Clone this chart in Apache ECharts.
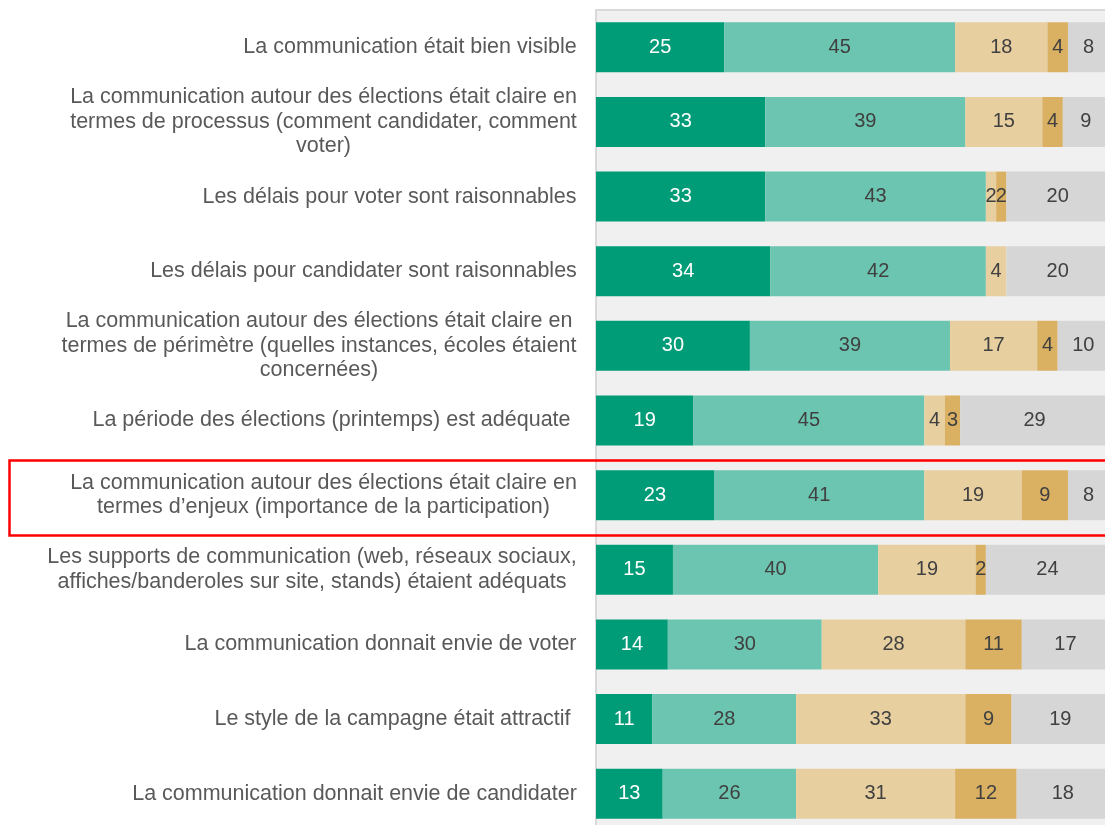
<!DOCTYPE html>
<html>
<head>
<meta charset="utf-8">
<script src="https://cdn.jsdelivr.net/npm/echarts@6/dist/echarts.min.js"></script>
<style>
  html, body { margin: 0; padding: 0; background: #fff; overflow: hidden; }
  /* le graphique déborde à droite et en bas, comme dans l'original */
  #chart { width: 1120px; height: 840px; }
</style>
</head>
<body>
<div id="chart"></div>
<script>
var categories = [
  'La communication était bien visible',
  'La communication autour des élections était claire en\ntermes de processus (comment candidater, comment\nvoter)',
  'Les délais pour voter sont raisonnables',
  'Les délais pour candidater sont raisonnables',
  'La communication autour des élections était claire en\ntermes de périmètre (quelles instances, écoles étaient\nconcernées)',
  'La période des élections (printemps) est adéquate ',
  'La communication autour des élections était claire en\ntermes d\u2019enjeux (importance de la participation)',
  'Les supports de communication (web, réseaux sociaux,\naffiches/banderoles sur site, stands) étaient adéquats',
  'La communication donnait envie de voter',
  'Le style de la campagne était attractif ',
  'La communication donnait envie de candidater'
];

var toutAFait   = [25, 33, 33, 34, 30, 19, 23, 15, 14, 11, 13];
var plutotOui   = [45, 39, 43, 42, 39, 45, 41, 40, 30, 28, 26];
var plutotNon   = [18, 15, 2, 4, 17, 4, 19, 19, 28, 33, 31];
var pasDuTout   = [4, 4, 2, 0, 4, 3, 9, 2, 11, 9, 12];
var sansAvis    = [8, 9, 20, 20, 10, 29, 8, 24, 17, 19, 18];

var FONT = '"Liberation Sans", Arial, sans-serif';
var LABEL_SIZE = 21.5;

// largeur de chaque libellé pour centrer les lignes dans leur bloc
var ctx = document.createElement('canvas').getContext('2d');
ctx.font = LABEL_SIZE + 'px ' + FONT;
var rich = {};
categories.forEach(function (c, i) {
  var w = 0;
  c.split('\n').forEach(function (line) {
    w = Math.max(w, ctx.measureText(line).width);
  });
  rich['c' + i] = {
    width: Math.ceil(w),
    align: 'center',
    fontSize: LABEL_SIZE,
    fontFamily: FONT,
    lineHeight: 24.5,
    color: '#595959'
  };
});

function makeSeries(name, data, color, textColor) {
  return {
    name: name,
    type: 'bar',
    stack: 'total',
    barWidth: 50,
    data: data,
    itemStyle: { color: color },
    label: {
      show: true,
      position: 'inside',
      color: textColor,
      fontSize: 20,
      fontFamily: FONT,
      formatter: function (p) { return p.value ? String(p.value) : ''; }
    }
  };
}

var chart = echarts.init(document.getElementById('chart'));
chart.setOption({
  animation: false,
  grid: {
    left: 596,
    top: 10,
    width: 513,
    height: 821,
    show: true,
    backgroundColor: '#f0f0f0',
    borderColor: '#d9d9d9',
    borderWidth: 2
  },
  xAxis: {
    type: 'value',
    min: 0,
    max: 100,
    show: false
  },
  yAxis: {
    type: 'category',
    inverse: true,
    data: categories,
    axisLine: { show: false },
    axisTick: { show: false },
    splitLine: { show: false },
    axisLabel: {
      interval: 0,
      margin: 19,
      formatter: function (value, index) {
        return '{c' + index + '|' + value + '}';
      },
      rich: rich
    }
  },
  series: [
    makeSeries("Tout à fait d'accord", toutAFait, '#009b77', '#ffffff'),
    makeSeries("Plutôt d'accord", plutotOui, '#6cc5b0', '#404040'),
    makeSeries("Plutôt pas d'accord", plutotNon, '#e8cfa0', '#404040'),
    makeSeries("Pas du tout d'accord", pasDuTout, '#dab062', '#404040'),
    makeSeries('Sans avis', sansAvis, '#d6d6d6', '#404040')
  ],
  graphic: [{
    type: 'rect',
    left: 7,
    top: 458,
    shape: { width: 1110, height: 75 },
    style: { fill: 'none', stroke: '#ff0000', lineWidth: 2.5 },
    z: 100
  }]
});
</script>
</body>
</html>
